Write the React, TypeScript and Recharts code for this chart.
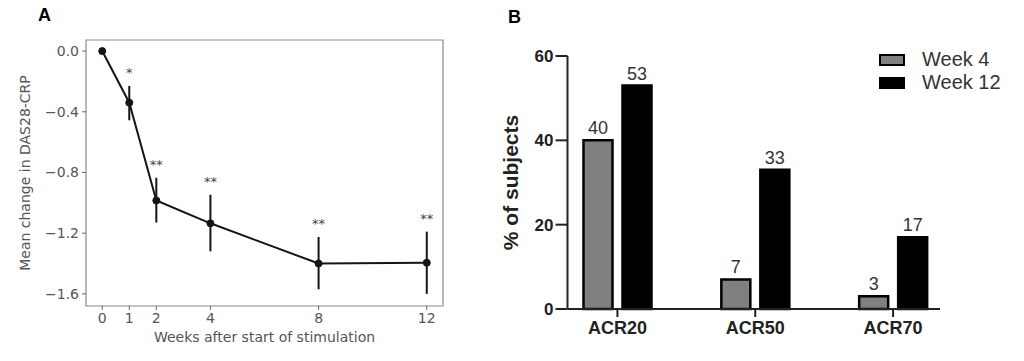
import React from 'react';
import {
    LineChart, Line, XAxis, YAxis, ErrorBar, LabelList, ReferenceArea,
    BarChart, Bar,
} from 'recharts';

// Panel A: mean change in DAS28-CRP
const weeks = [0, 1, 2, 4, 8, 12];
const meanChange = [0, -0.34, -0.985, -1.135, -1.4, -1.395];
const upperBound = [0, -0.23, -0.835, -0.947, -1.225, -1.19];
const lowerBound = [0, -0.456, -1.13, -1.32, -1.57, -1.6];
const significance = ['', '*', '**', '**', '**', '**'];
const yTicksA = [0, -0.4, -0.8, -1.2, -1.6];

// Panel B: ACR response
const acrCategories = ['ACR20', 'ACR50', 'ACR70'];
const week4 = [40, 7, 3];
const week12 = [53, 33, 17];
const yTicksB = [0, 20, 40, 60];
const legendItems = [
    { label: 'Week 4', fill: '#808080' },
    { label: 'Week 12', fill: '#000' },
];

const lineData = weeks.map((w, i) => ({
    week: w,
    mean: meanChange[i],
    upper: upperBound[i],
    err: [meanChange[i] - lowerBound[i], upperBound[i] - meanChange[i]],
    sig: significance[i],
}));

const barData = acrCategories.map((c, i) => ({ name: c, w4: week4[i], w12: week12[i] }));

const fmtA = (v: number) => (v === 0 ? '0.0' : `\u2212${Math.abs(v).toFixed(1)}`);

const A_FONT = '"DejaVu Sans", sans-serif';
const B_FONT = '"Liberation Sans", Arial, sans-serif';
const A_TEXT = { fontSize: 14, fill: '#555', fontFamily: A_FONT };

export default function App() {
    return (
        <div style={{ position: 'absolute', left: 0, top: 0, width: 1024, height: 361, background: '#fff' }}>
            <div style={{ position: 'absolute', left: 38, top: 5, fontFamily: B_FONT, fontWeight: 'bold', fontSize: 18 }}>A</div>
            <div style={{ position: 'absolute', left: 508, top: 7, fontFamily: B_FONT, fontWeight: 'bold', fontSize: 18 }}>B</div>

            <div style={{ position: 'absolute', left: 0, top: 0 }}>
                <LineChart width={460} height={361} data={lineData}
                    margin={{ top: 40, right: 17, left: 0, bottom: 19 }}>
                    <ReferenceArea x1={-0.6} x2={12.6} y1={-1.68} y2={0.073}
                        fill="#fff" fillOpacity={0} stroke="#8a8a8a" strokeWidth={1.2} ifOverflow="visible" />
                    <XAxis type="number" dataKey="week" domain={[-0.6, 12.6]} ticks={weeks}
                        allowDataOverflow axisLine={false} tickSize={4} tickMargin={3}
                        tickLine={{ stroke: '#666' }} height={36}
                        tick={A_TEXT}
                        label={{ value: 'Weeks after start of stimulation', position: 'insideBottom', offset: 0, style: A_TEXT }} />
                    <YAxis type="number" domain={[-1.68, 0.073]} ticks={yTicksA} allowDataOverflow
                        axisLine={false} tickSize={4} tickMargin={3} tickLine={{ stroke: '#666' }} width={86}
                        tickFormatter={fmtA}
                        tick={A_TEXT}
                        label={{ value: 'Mean change in DAS28-CRP', angle: -90, position: 'insideLeft', offset: 25,
                            style: { ...A_TEXT, textAnchor: 'middle' } }} />
                    <Line dataKey="upper" stroke="none" dot={false} activeDot={false} isAnimationActive={false}>
                        <LabelList dataKey="sig" position="top" offset={9}
                            style={{ fontSize: 13, fill: '#444', fontFamily: A_FONT }} />
                    </Line>
                    <Line dataKey="mean" stroke="#151515" strokeWidth={2} isAnimationActive={false}
                        dot={{ r: 3.5, fill: '#151515', stroke: '#151515', strokeWidth: 1 }} activeDot={false}>
                        <ErrorBar dataKey="err" direction="y" width={0} stroke="#151515" strokeWidth={2} />
                    </Line>
                </LineChart>
            </div>

            <div style={{ position: 'absolute', left: 480, top: 0 }}>
                <BarChart width={544} height={361} data={barData}
                    margin={{ top: 56, right: 84, left: 0, bottom: 22 }}
                    barSize={29} barGap={10}>
                    <XAxis dataKey="name" padding={{ left: -19, right: -22 }} height={30}
                        axisLine={{ stroke: '#222', strokeWidth: 2 }} tickLine={{ stroke: '#222', strokeWidth: 2 }}
                        tickSize={8} tickMargin={4}
                        tick={{ fontSize: 18, fontWeight: 'bold', fill: '#222', fontFamily: B_FONT }} />
                    <YAxis type="number" domain={[0, 60]} ticks={yTicksB} width={87.5}
                        axisLine={{ stroke: '#222', strokeWidth: 2 }} tickLine={{ stroke: '#222', strokeWidth: 2 }}
                        tickSize={12} tickMargin={2}
                        tick={{ fontSize: 17, fontWeight: 'bold', fill: '#222', fontFamily: B_FONT }}
                        label={{ value: '% of subjects', angle: -90, position: 'insideLeft', offset: 31,
                            style: { fontSize: 21, fontWeight: 'bold', fill: '#222', fontFamily: B_FONT, textAnchor: 'middle' } }} />
                    <Bar dataKey="w4" name="Week 4" fill="#808080" stroke="#000" strokeWidth={2.5} isAnimationActive={false}>
                        <LabelList dataKey="w4" position="top" offset={6}
                            style={{ fontSize: 18, fill: '#333', fontFamily: B_FONT }} />
                    </Bar>
                    <Bar dataKey="w12" name="Week 12" fill="#000" stroke="#000" strokeWidth={2.5} isAnimationActive={false}>
                        <LabelList dataKey="w12" position="top" offset={6}
                            style={{ fontSize: 18, fill: '#333', fontFamily: B_FONT }} />
                    </Bar>
                </BarChart>
            </div>

            <div style={{ position: 'absolute', left: 879, top: 48, fontFamily: B_FONT, fontSize: 20, color: '#333', lineHeight: '23px' }}>
                {legendItems.map(item => (
                    <div key={item.label} style={{ display: 'flex', alignItems: 'center' }}>
                        <span style={{
                            display: 'inline-block', width: 22, height: 8, background: item.fill,
                            border: '2px solid #000', marginRight: 17,
                        }} />
                        {item.label}
                    </div>
                ))}
            </div>
        </div>
    );
}
